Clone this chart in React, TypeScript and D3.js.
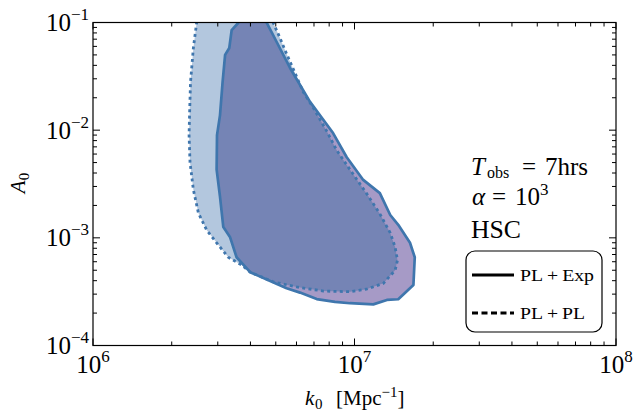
import React from "react";
import * as d3 from "d3";

// ---- data (k0 in Mpc^-1, A0) ----
const plExp: [number, number][] = [
  [3.59e6, 0.117], [3.59e6, 0.099], [3.39e6, 0.085], [3.32e6, 0.058], [3.2e6, 0.05],
  [3.13e6, 0.028], [3.06e6, 0.0138], [2.98e6, 0.009], [2.97e6, 0.0043], [3.06e6, 0.0024],
  [3.15e6, 0.00126], [3.34e6, 0.00102], [3.54e6, 0.00066], [3.99e6, 0.00048], [4.62e6, 0.00041],
  [5.5e6, 0.00034], [6.19e6, 0.00031], [7.17e6, 0.00027], [8.42e6, 0.000254], [9.61e6, 0.000247],
  [1.18e7, 0.000241], [1.33e7, 0.000265], [1.47e7, 0.000269], [1.68e7, 0.000365], [1.7e7, 0.00066],
  [1.63e7, 0.0009], [1.47e7, 0.00132], [1.37e7, 0.00163], [1.25e7, 0.0026], [1.08e7, 0.00345],
  [9.34e6, 0.0056], [8.28e6, 0.0094], [6.76e6, 0.0183], [5.67e6, 0.0378], [5.04e6, 0.0659],
  [4.62e6, 0.099], [4.51e6, 0.117],
];

const plPl: [number, number][] = [
  [2.5e6, 0.117], [2.49e6, 0.099], [2.42e6, 0.058], [2.36e6, 0.028], [2.34e6, 0.0138],
  [2.33e6, 0.009], [2.35e6, 0.005], [2.42e6, 0.0028], [2.53e6, 0.0017], [2.72e6, 0.00118],
  [2.97e6, 0.0009], [3.29e6, 0.00066], [3.7e6, 0.00056], [3.99e6, 0.00048], [4.89e6, 0.00039],
  [6.01e6, 0.00035], [7.6e6, 0.00032], [9.61e6, 0.000316], [1.11e7, 0.000333], [1.29e7, 0.000378],
  [1.43e7, 0.0005], [1.46e7, 0.00062], [1.43e7, 0.00082], [1.37e7, 0.00111], [1.25e7, 0.00167],
  [1.11e7, 0.0026], [9.61e6, 0.0043], [8.55e6, 0.0065], [7.83e6, 0.0098], [6.96e6, 0.0161],
  [6.37e6, 0.0226], [5.42e6, 0.0555], [5.19e6, 0.0718], [4.89e6, 0.099], [4.84e6, 0.117],
];

const xMajor = [1e6, 1e7, 1e8];
const xMajorExp = ["6", "7", "8"];
const yMajor = [1e-4, 1e-3, 1e-2, 1e-1];
const yMajorExp = ["−4", "−3", "−2", "−1"];
const legendLabels = ["PL\u2009+\u2009Exp", "PL\u2009+\u2009PL"];

const W = 634;
const H = 418;
const L = 93, R = 616, T = 22.5, B = 345.5;
const FONT = '"Liberation Serif", "DejaVu Serif", "Times New Roman", serif';
const LINE = "#3f76ad";

export default function App() {
  const x = d3.scaleLog().domain([1e6, 1e8]).range([L, R]);
  const y = d3.scaleLog().domain([1e-4, 1e-1]).range([B, T]);
  const line = d3.line<[number, number]>().x((d) => x(d[0])).y((d) => y(d[1]));
  const pExp = line(plExp) + "Z";
  const pPl = line(plPl) + "Z";

  const xMinor: number[] = [];
  [1e6, 1e7].forEach((b) => { for (let i = 2; i <= 9; i++) xMinor.push(b * i); });
  const yMinor: number[] = [];
  [1e-4, 1e-3, 1e-2].forEach((b) => { for (let i = 2; i <= 9; i++) yMinor.push(b * i); });

  const maj = 7, mnr = 4;
  const tickStroke = { stroke: "#000", strokeWidth: 1 };

  return (
    <svg width={W} height={H} style={{ position: "absolute", left: 0, top: 0, background: "#fff", fontFamily: FONT }}>
      <defs>
        <clipPath id="plot"><rect x={L} y={T} width={R - L} height={B - T} /></clipPath>
        <clipPath id="plClip"><path d={pPl} /></clipPath>
      </defs>
      <g clipPath="url(#plot)">
        <path d={pPl} fill="#b3c7de" />
        <path d={pExp} fill="#a69ac6" />
        <g clipPath="url(#plClip)">
          <path d={pExp} fill="#7584b5" />
        </g>
        <path d={pPl} fill="none" stroke={LINE} strokeWidth={2.8} strokeDasharray="3,3.3" />
        <path d={pExp} fill="none" stroke={LINE} strokeWidth={2.7} strokeLinejoin="round" />
      </g>

      {/* frame */}
      <rect x={L} y={T} width={R - L} height={B - T} fill="none" stroke="#000" strokeWidth={1.2} />

      {/* ticks */}
      {xMajor.map((v, i) => (
        <g key={"xm" + i}>
          <line x1={x(v)} x2={x(v)} y1={B} y2={B - maj} {...tickStroke} />
          <line x1={x(v)} x2={x(v)} y1={T} y2={T + maj} {...tickStroke} />
        </g>
      ))}
      {xMinor.map((v, i) => (
        <g key={"xn" + i}>
          <line x1={x(v)} x2={x(v)} y1={B} y2={B - mnr} {...tickStroke} />
          <line x1={x(v)} x2={x(v)} y1={T} y2={T + mnr} {...tickStroke} />
        </g>
      ))}
      {yMajor.map((v, i) => (
        <g key={"ym" + i}>
          <line x1={L} x2={L + maj} y1={y(v)} y2={y(v)} {...tickStroke} />
          <line x1={R} x2={R - maj} y1={y(v)} y2={y(v)} {...tickStroke} />
        </g>
      ))}
      {yMinor.map((v, i) => (
        <g key={"yn" + i}>
          <line x1={L} x2={L + mnr} y1={y(v)} y2={y(v)} {...tickStroke} />
          <line x1={R} x2={R - mnr} y1={y(v)} y2={y(v)} {...tickStroke} />
        </g>
      ))}

      {/* tick labels */}
      {xMajor.map((v, i) => (
        <text key={"xl" + i} x={x(v)} y={373} fontSize={25} textAnchor="middle">
          10<tspan dy={-11} fontSize={17}>{xMajorExp[i]}</tspan>
        </text>
      ))}
      {yMajor.map((v, i) => (
        <text key={"yl" + i} x={89} y={y(v) + 8.5} fontSize={25} textAnchor="end">
          10<tspan dy={-11} fontSize={17}>{yMajorExp[i]}</tspan>
        </text>
      ))}

      {/* axis labels */}
      <text y={405} fontSize={21}>
        <tspan x={305} fontStyle="italic">k</tspan>
        <tspan x={315} dy={4} fontSize={15}>0</tspan>
        <tspan x={336} dy={-4}>[Mpc</tspan>
        <tspan dy={-8} fontSize={15}>−1</tspan>
        <tspan dy={8}>]</tspan>
      </text>
      <text transform="translate(25,183) rotate(-90)" fontSize={21} textAnchor="middle">
        <tspan fontStyle="italic">A</tspan>
        <tspan dy={4} fontSize={15}>0</tspan>
      </text>

      {/* annotation */}
      <text y={175} fontSize={25}>
        <tspan x={471} fontStyle="italic">T</tspan>
        <tspan x={487} dy={3} fontSize={16}>obs</tspan>
        <tspan x={522} dy={-3}>=</tspan>
        <tspan x={545}>7hrs</tspan>
      </text>
      <text y={205} fontSize={25}>
        <tspan x={472} fontStyle="italic">α</tspan>
        <tspan x={492}>=</tspan>
        <tspan x={515}>10</tspan>
        <tspan dy={-10} fontSize={17}>3</tspan>
      </text>
      <text x={471} y={238} fontSize={25} textLength={50} lengthAdjust="spacingAndGlyphs">HSC</text>

      {/* legend */}
      <rect x={466} y={251} width={136} height={81} rx={9} ry={9} fill="#fff" stroke="#000" strokeWidth={1.2} />
      <line x1={472} x2={514} y1={275} y2={275} stroke="#000" strokeWidth={3} />
      <text x={520} y={281} fontSize={17} textLength={74} lengthAdjust="spacingAndGlyphs">{legendLabels[0]}</text>
      <line x1={472} x2={514} y1={313} y2={313} stroke="#000" strokeWidth={3} strokeDasharray="6,3.5" />
      <text x={520} y={319} fontSize={17} textLength={65} lengthAdjust="spacingAndGlyphs">{legendLabels[1]}</text>
    </svg>
  );
}
